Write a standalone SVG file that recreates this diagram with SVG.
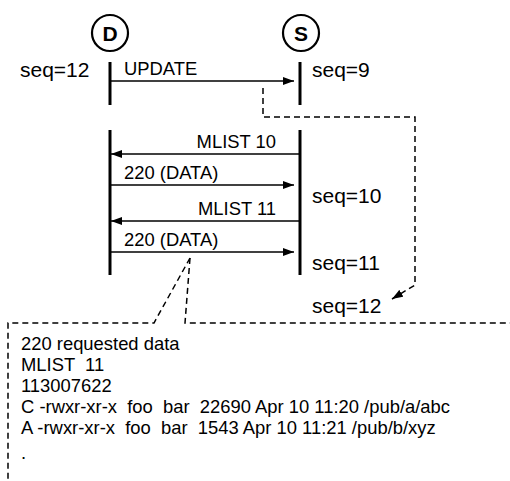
<svg xmlns="http://www.w3.org/2000/svg" width="510" height="481" viewBox="0 0 510 481">
<style>
text{font-family:"Liberation Sans",Arial,sans-serif;fill:#000}
.lbl{font-size:18.4px}
.seq{font-size:21px}
.life{stroke:#000;stroke-width:3}
.msg{stroke:#000;stroke-width:1.5;fill:none}
.dash{stroke:#000;stroke-width:1.5;fill:none;stroke-dasharray:6 4}
.node{fill:#fff;stroke:#000;stroke-width:2.2}
.nl{font-size:21px;font-weight:bold}
</style>
<defs>
<marker id="ah" viewBox="0 0 11 8" refX="11" refY="4" markerWidth="11" markerHeight="8" markerUnits="userSpaceOnUse" orient="auto">
<path d="M0,0L11,4L0,8z" fill="#000"/>
</marker>
</defs>
<g id="D">
<circle class="node" cx="110" cy="33" r="18"/>
<text class="nl" x="110" y="40.5" text-anchor="middle">D</text>
</g>
<g id="S">
<circle class="node" cx="301" cy="33" r="18"/>
<text class="nl" x="301" y="40.5" text-anchor="middle">S</text>
</g>
<g id="lifelines">
<line class="life" x1="110" y1="62" x2="110" y2="105"/>
<line class="life" x1="300" y1="62" x2="300" y2="105"/>
<line class="life" x1="110" y1="130" x2="110" y2="275"/>
<line class="life" x1="300" y1="130" x2="300" y2="275"/>
</g>
<g id="connectors">
<line class="msg" x1="110" y1="81" x2="294" y2="81" marker-end="url(#ah)"/>
<line class="msg" x1="300" y1="154" x2="111" y2="154" marker-end="url(#ah)"/>
<line class="msg" x1="110" y1="185" x2="294" y2="185" marker-end="url(#ah)"/>
<line class="msg" x1="300" y1="221" x2="111" y2="221" marker-end="url(#ah)"/>
<line class="msg" x1="110" y1="252" x2="294" y2="252" marker-end="url(#ah)"/>
<path class="dash" d="M263,88V117H415V285L392,299" marker-end="url(#ah)"/>
<path class="dash" d="M190,258L154,323H8V481"/>
<path class="dash" d="M190,258L185,323H510"/>
</g>
<g id="labels">
<text class="seq" x="20" y="77">seq=12</text>
<text class="seq" x="312" y="77">seq=9</text>
<text class="lbl" x="124" y="75">UPDATE</text>
<text class="lbl" x="276" y="148" text-anchor="end">MLIST 10</text>
<text class="lbl" x="124" y="179">220 (DATA)</text>
<text class="seq" x="312" y="203">seq=10</text>
<text class="lbl" x="276" y="215" text-anchor="end">MLIST 11</text>
<text class="lbl" x="124" y="246">220 (DATA)</text>
<text class="seq" x="312" y="270">seq=11</text>
<text class="seq" x="312" y="313">seq=12</text>
</g>
<g id="note">
<text class="lbl" x="21" y="350">220 requested data</text>
<text class="lbl" x="21" y="371" xml:space="preserve">MLIST  11</text>
<text class="lbl" x="21" y="392">113007622</text>
<text class="lbl" x="21" y="413" xml:space="preserve">C -rwxr-xr-x  foo  bar  22690 Apr 10 11:20 /pub/a/abc</text>
<text class="lbl" x="21" y="434" xml:space="preserve">A -rwxr-xr-x  foo  bar  1543 Apr 10 11:21 /pub/b/xyz</text>
<text class="lbl" x="21" y="459">.</text>
</g>
</svg>
